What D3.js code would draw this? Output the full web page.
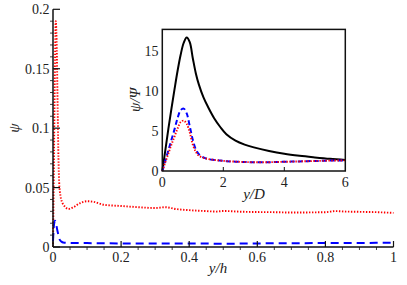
<!DOCTYPE html>
<html><head><meta charset="utf-8">
<script src="https://cdn.jsdelivr.net/npm/d3@7"></script>
<style>
html,body{margin:0;padding:0;background:#fff;}
</style></head>
<body><svg id="c" width="407" height="285"></svg>
<script>
// Main plot data (x = y/h)
const redX = [0, 0.003, 0.006, 0.008, 0.01, 0.012, 0.014, 0.016, 0.018, 0.022, 0.028, 0.035, 0.045, 0.06, 0.08, 0.1, 0.12, 0.15, 0.2, 0.25, 0.3, 0.33, 0.36, 0.4, 0.45, 0.48, 0.5, 0.55, 0.6, 0.65, 0.7, 0.75, 0.8, 0.83, 0.86, 0.9, 0.95, 1.0];
const redY = [0.0, 0.08, 0.16, 0.19, 0.18, 0.15, 0.11, 0.075, 0.055, 0.043, 0.037, 0.034, 0.032, 0.0335, 0.037, 0.0385, 0.038, 0.0355, 0.0345, 0.0335, 0.0328, 0.0335, 0.032, 0.031, 0.0302, 0.0298, 0.0303, 0.0297, 0.0294, 0.0293, 0.029, 0.0291, 0.0293, 0.0302, 0.0298, 0.0296, 0.0293, 0.0287];
const blueX = [0, 0.003, 0.006, 0.009, 0.012, 0.016, 0.02, 0.025, 0.03, 0.04, 0.06, 0.1, 0.2, 0.3, 0.4, 0.5, 0.6, 0.7, 0.8, 0.9, 1.0];
const blueY = [0.005, 0.019, 0.022, 0.02, 0.015, 0.01, 0.006, 0.0045, 0.0038, 0.0035, 0.0034, 0.0033, 0.003, 0.003, 0.003, 0.0028, 0.003, 0.0032, 0.0033, 0.0034, 0.0036];
const mainXTicks = [0, 0.2, 0.4, 0.6, 0.8, 1];
const mainXTickLabels = ["0", "0.2", "0.4", "0.6", "0.8", "1"];
const mainYTicks = [0, 0.05, 0.1, 0.15, 0.2];
const mainYTickLabels = ["0", "0.05", "0.1", "0.15", "0.2"];

// Inset data (x = y/D)
const insetX = [0, 0.1, 0.2, 0.3, 0.4, 0.5, 0.6, 0.7, 0.8, 0.9, 1.0, 1.1, 1.2, 1.35, 1.5, 1.7, 1.9, 2.1, 2.4, 2.7, 3, 3.5, 4, 4.5, 5, 5.5, 6];
const insetBlack = [0, 2.6, 5.3, 7.8, 10.2, 12.5, 14.5, 16.0, 16.7, 16.1, 14.1, 12.2, 10.8, 9.2, 8.0, 6.6, 5.5, 4.6, 3.8, 3.3, 2.95, 2.5, 2.15, 1.9, 1.7, 1.52, 1.38];
const insetBlue = [0, 1.3, 2.6, 3.9, 5.2, 6.6, 7.6, 7.8, 7.2, 5.6, 3.9, 2.7, 2.1, 1.7, 1.5, 1.38, 1.3, 1.23, 1.17, 1.12, 1.1, 1.1, 1.15, 1.2, 1.25, 1.3, 1.33];
const insetRed = [0, 1.1, 2.2, 3.3, 4.3, 5.3, 6.1, 6.3, 5.9, 4.8, 3.3, 2.4, 1.9, 1.65, 1.5, 1.38, 1.3, 1.23, 1.17, 1.12, 1.1, 1.1, 1.15, 1.2, 1.25, 1.3, 1.33];
const insetXTicks = [0, 2, 4, 6];
const insetYTicks = [0, 5, 10, 15];

const FONT = "'Liberation Serif', 'DejaVu Serif', 'Times New Roman', serif";
const svg = d3.select("#c");
const txt = (sel) => sel.attr("font-family", FONT).attr("fill", "#222");

// ---- Main plot ----
const x = d3.scaleLinear().domain([0, 1]).range([53, 393.5]);
const y = d3.scaleLinear().domain([0, 0.2]).range([247, 9.3]);

const line = (xs, ys, sx, sy, curve) => d3.line().x((d, i) => sx(xs[i])).y(d => sy(d)).curve(curve || d3.curveMonotoneX)(ys);

svg.append("path").attr("d", line(redX, redY, x, y)).attr("fill", "none")
  .attr("stroke", "#ff0000").attr("stroke-width", 1.9).attr("stroke-dasharray", "1.4,1.6");
svg.append("path").attr("d", line(blueX, blueY, x, y)).attr("fill", "none")
  .attr("stroke", "#0000ff").attr("stroke-width", 2).attr("stroke-dasharray", "8,5");

// axes lines
const ax = svg.append("g").attr("stroke", "#111").attr("fill", "none");
ax.append("line").attr("x1", x(0)).attr("x2", x(1)).attr("y1", y(0)).attr("y2", y(0)).attr("stroke-width", 1.5);
ax.append("line").attr("x1", x(0)).attr("x2", x(0)).attr("y1", y(0)).attr("y2", y(0.2)).attr("stroke-width", 1.5);
// major ticks inward
mainXTicks.forEach(t => ax.append("line").attr("x1", x(t)).attr("x2", x(t)).attr("y1", y(0)).attr("y2", y(0) - 6).attr("stroke-width", 1.2));
mainYTicks.forEach(t => ax.append("line").attr("x1", x(0)).attr("x2", x(0) + 7).attr("y1", y(t)).attr("y2", y(t)).attr("stroke-width", 1.2));
// minor ticks outward
d3.range(1, 20).map(i => i * 0.05).filter(v => Math.abs(v * 5 - Math.round(v * 5)) > 1e-6)
  .forEach(t => ax.append("line").attr("x1", x(t)).attr("x2", x(t)).attr("y1", y(0)).attr("y2", y(0) + 3).attr("stroke-width", 0.8));
d3.range(1, 20).map(i => i * 0.01).filter(v => Math.abs(v * 20 - Math.round(v * 20)) > 1e-6)
  .forEach(t => ax.append("line").attr("x1", x(0)).attr("x2", x(0) - 3).attr("y1", y(t)).attr("y2", y(t)).attr("stroke-width", 0.8));

// tick labels
mainXTicks.forEach((t, i) => txt(svg.append("text")).attr("x", x(t)).attr("y", 262).attr("text-anchor", "middle")
  .attr("font-size", 14).text(mainXTickLabels[i]));
mainYTicks.forEach((t, i) => txt(svg.append("text")).attr("x", 49.5).attr("y", y(t) + 5).attr("text-anchor", "end")
  .attr("font-size", 14).text(mainYTickLabels[i]));

txt(svg.append("text")).attr("x", 218).attr("y", 273).attr("text-anchor", "middle").attr("font-size", 15)
  .attr("font-style", "italic").text("y/h");
txt(svg.append("text")).attr("transform", "translate(19,128) rotate(-90)").attr("text-anchor", "middle")
  .attr("font-size", 15).attr("font-style", "italic").text("ψ");

// ---- Inset ----
const ix = d3.scaleLinear().domain([0, 6]).range([162.3, 345.3]);
const iy = d3.scaleLinear().domain([0, 17.7]).range([171, 29.4]);

svg.append("rect").attr("x", ix(0)).attr("y", iy(17.7)).attr("width", ix(6) - ix(0)).attr("height", iy(0) - iy(17.7))
  .attr("fill", "#fff");

const ig = svg.append("g");
ig.append("path").attr("d", line(insetX, insetBlack, ix, iy, d3.curveCatmullRom)).attr("fill", "none").attr("stroke", "#000").attr("stroke-width", 2);
ig.append("path").attr("d", line(insetX, insetBlue, ix, iy, d3.curveCatmullRom)).attr("fill", "none").attr("stroke", "#0000ff")
  .attr("stroke-width", 2).attr("stroke-dasharray", "5,3");
ig.append("path").attr("d", line(insetX, insetRed, ix, iy, d3.curveCatmullRom)).attr("fill", "none").attr("stroke", "#ff0000")
  .attr("stroke-width", 1.9).attr("stroke-dasharray", "1.4,1.6");

svg.append("rect").attr("x", ix(0)).attr("y", iy(17.7)).attr("width", ix(6) - ix(0)).attr("height", iy(0) - iy(17.7))
  .attr("fill", "none").attr("stroke", "#111").attr("stroke-width", 1.5);

insetXTicks.slice(1, 3).forEach(t => svg.append("line").attr("x1", ix(t)).attr("x2", ix(t)).attr("y1", iy(0)).attr("y2", iy(0) - 4)
  .attr("stroke", "#111").attr("stroke-width", 1));

insetXTicks.forEach(t => txt(svg.append("text")).attr("x", ix(t)).attr("y", 187).attr("text-anchor", "middle")
  .attr("font-size", 14).text(t));
insetYTicks.forEach(t => txt(svg.append("text")).attr("x", 158.5).attr("y", iy(t) + 5).attr("text-anchor", "end")
  .attr("font-size", 14).text(t));

txt(svg.append("text")).attr("x", 254).attr("y", 199).attr("text-anchor", "middle").attr("font-size", 15)
  .attr("font-style", "italic").text("y/D");
txt(svg.append("text")).attr("transform", "translate(140,100) rotate(-90)").attr("text-anchor", "middle")
  .attr("font-size", 15).attr("font-style", "italic").text("ψ/Ψ");
</script></body></html>
